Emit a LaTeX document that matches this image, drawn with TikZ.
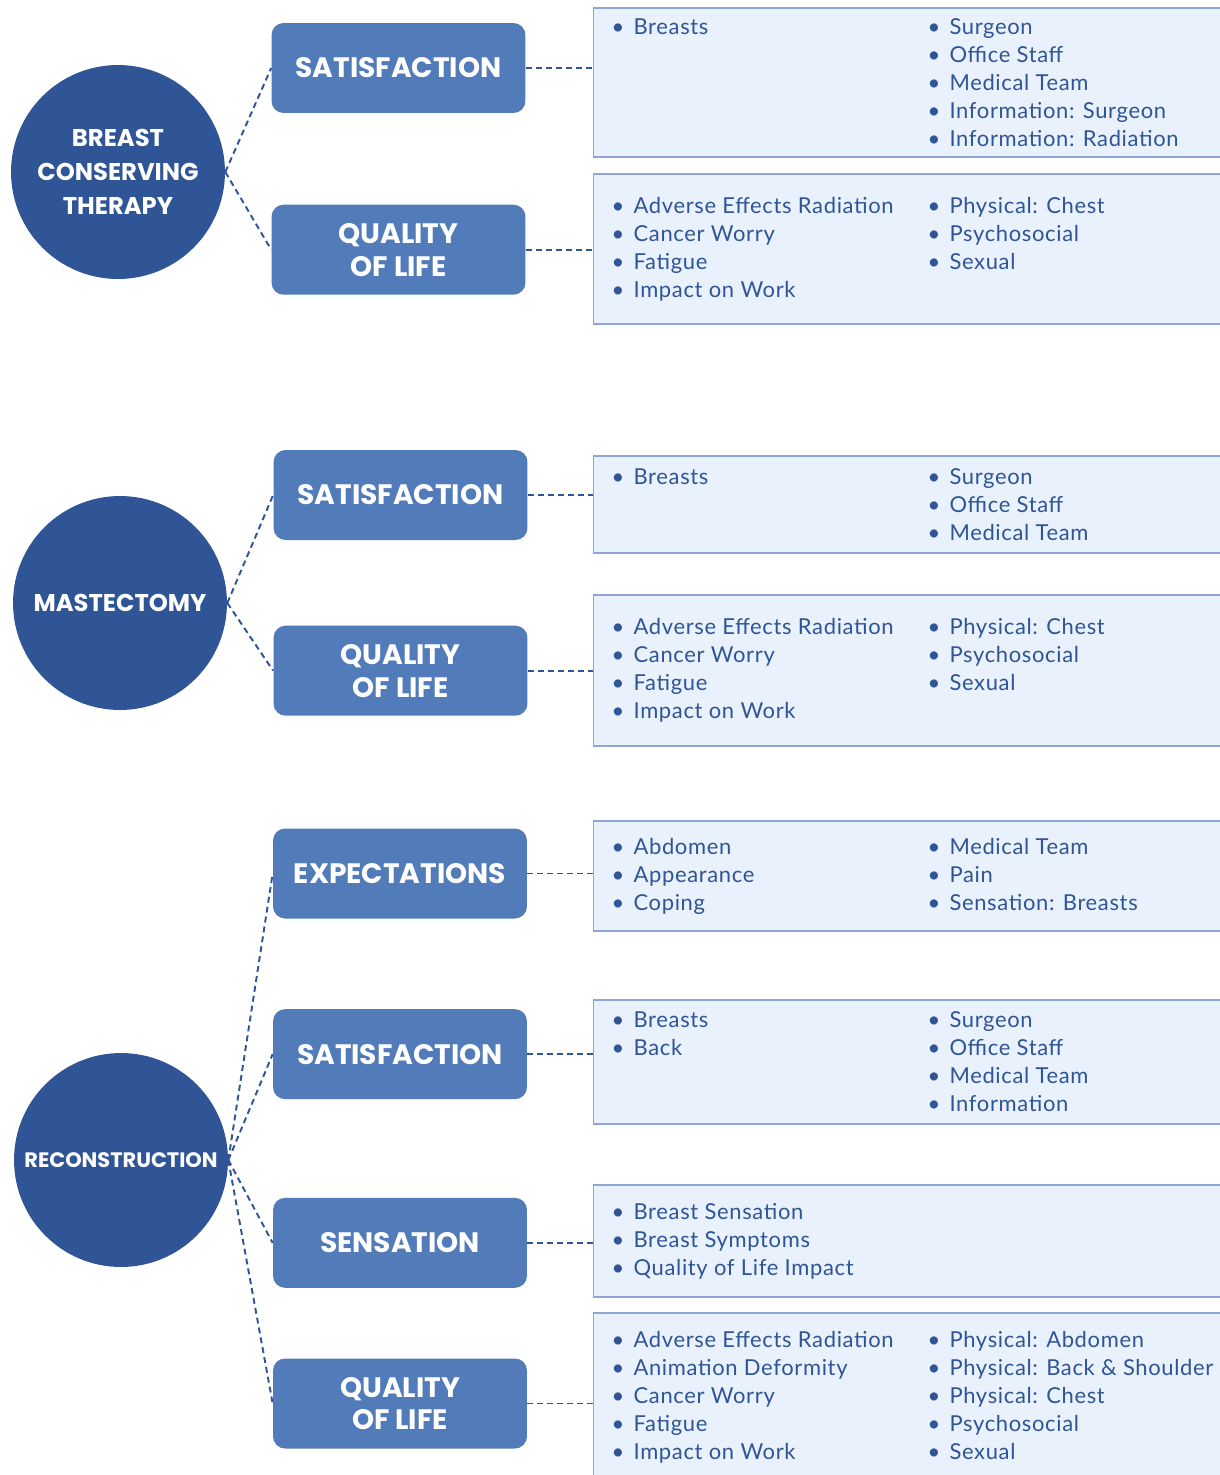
\documentclass[tikz,border=0pt]{standalone}
\usepackage{fontspec}
\setmainfont{Lato}[LetterSpace=3]
\newfontfamily\headfont{Poppins}
\usepackage{xcolor}
\usetikzlibrary{positioning,calc}
\definecolor{hubblue}{RGB}{47,85,151}
\definecolor{headblue}{RGB}{82,123,185}
\definecolor{listfill}{RGB}{233,241,253}
\definecolor{listline}{RGB}{140,166,214}
\definecolor{listtext}{RGB}{47,85,151}
\newcommand{\bul}[1]{\makebox[0.44cm][l]{\textbullet}#1\par}
\newcommand{\itemcol}[2]{\begin{minipage}[t]{#1}#2\end{minipage}}

\begin{document}
\begin{tikzpicture}[
  x=0.02cm, y=-0.02cm,
  node distance=1.8cm,
  hub/.style={circle, fill=hubblue, text=white, minimum size=4.28cm, inner sep=0pt, align=center, font=\headfont\bfseries\fontsize{13.8}{19.3}\selectfont},
  head/.style={rectangle, rounded corners=0.24cm, fill=headblue, text=white, minimum width=5.08cm, minimum height=1.8cm, align=center, font=\headfont\bfseries\fontsize{16}{18.7}\selectfont},
  items/.style={rectangle, draw=listline, fill=listfill, line width=0.7pt, anchor=west, inner xsep=0.36cm, inner ysep=0pt, text=listtext, font=\fontsize{12.5}{15.9}\selectfont},
  link/.style={dash pattern=on 3.4pt off 2.3pt, line width=1.1pt, draw=hubblue}
]
  \clip (0,0) rectangle (1220,1475);

  % Nodes
  \node[hub] (bct) at (118,172) {BREAST\\CONSERVING\\THERAPY};
  \node[head] (sat1) at (398.5,68) {SATISFACTION};
  \node[head, below=1.82cm of sat1] (qol1) {QUALITY\\OF LIFE};

  \node[hub] (mast) at (120,603) {MASTECTOMY};
  \node[head] (sat2) at (400.5,495) {SATISFACTION};
  \node[head, below=1.7cm of sat2] (qol2) {QUALITY\\OF LIFE};

  \node[hub, font=\headfont\bfseries\fontsize{11.9}{14}\selectfont] (recon) at (121,1160) {RECONSTRUCTION};
  \node[head] (exp3) at (400,873.5) {EXPECTATIONS};
  \node[head, below=1.8cm of exp3] (sat3) {SATISFACTION};
  \node[head, below=1.96cm of sat3] (sens3) {SENSATION};
  \node[head, below=1.4cm of sens3] (qol3) {QUALITY\\OF LIFE};

  % Lists
  \node[items, minimum height=2.98cm] (list1) at (593,82.5) {%
    \itemcol{6.32cm}{\bul{Breasts}}%
    \itemcol{5.74cm}{\bul{Surgeon}\bul{Office Staff}\bul{Medical Team}\bul{Information: Surgeon}\bul{Information: Radiation}}};
  \node[items, minimum height=3cm] (list2) at (593,249) {%
    \itemcol{6.32cm}{\bul{Adverse Effects Radiation}\bul{Cancer Worry}\bul{Fatigue}\bul{Impact on Work}}%
    \itemcol{5.74cm}{\bul{Physical: Chest}\bul{Psychosocial}\bul{Sexual}}};
  \node[items, minimum height=1.94cm] (list3) at (593,504.5) {%
    \itemcol{6.32cm}{\bul{Breasts}}%
    \itemcol{5.74cm}{\bul{Surgeon}\bul{Office Staff}\bul{Medical Team}}};
  \node[items, minimum height=3.02cm] (list4) at (593,670.5) {%
    \itemcol{6.32cm}{\bul{Adverse Effects Radiation}\bul{Cancer Worry}\bul{Fatigue}\bul{Impact on Work}}%
    \itemcol{5.74cm}{\bul{Physical: Chest}\bul{Psychosocial}\bul{Sexual}}};
  \node[items, minimum height=2.2cm] (list5) at (593,876) {%
    \itemcol{6.32cm}{\bul{Abdomen}\bul{Appearance}\bul{Coping}}%
    \itemcol{5.74cm}{\bul{Medical Team}\bul{Pain}\bul{Sensation: Breasts}}};
  \node[items, minimum height=2.48cm] (list6) at (593,1062) {%
    \itemcol{6.32cm}{\bul{Breasts}\bul{Back}}%
    \itemcol{5.74cm}{\bul{Surgeon}\bul{Office Staff}\bul{Medical Team}\bul{Information}}};
  \node[items, minimum height=2.24cm] (list7) at (593,1241) {%
    \itemcol{12.06cm}{\bul{Breast Sensation}\bul{Breast Symptoms}\bul{Quality of Life Impact}}};
  \node[items, minimum height=3.36cm] (list8) at (593,1397) {%
    \itemcol{6.32cm}{\bul{Adverse Effects Radiation}\bul{Animation Deformity}\bul{Cancer Worry}\bul{Fatigue}\bul{Impact on Work}}%
    \itemcol{5.74cm}{\bul{Physical: Abdomen}\bul{Physical: Back \& Shoulder}\bul{Physical: Chest}\bul{Psychosocial}\bul{Sexual}}};

  % Links
  \draw[link] (bct.east) -- (sat1.west);
  \draw[link] (bct.east) -- (qol1.west);
  \draw[link] (mast.east) -- (sat2.west);
  \draw[link] (mast.east) -- (qol2.west);
  \draw[link] (recon.east) -- (exp3.west);
  \draw[link] (recon.east) -- (sat3.west);
  \draw[link] (recon.east) -- (sens3.west);
  \draw[link] (recon.east) -- (qol3.west);

  \draw[link] (sat1.east) -- (sat1.east -| list1.west);
  \draw[link] (qol1.east) -- (qol1.east -| list2.west);
  \draw[link] (sat2.east) -- (sat2.east -| list3.west);
  \draw[link] (qol2.east) -- (qol2.east -| list4.west);
  \draw[link] (exp3.east) -- (exp3.east -| list5.west);
  \draw[link] (sat3.east) -- (sat3.east -| list6.west);
  \draw[link] (sens3.east) -- (sens3.east -| list7.west);
  \draw[link] (qol3.east) -- (qol3.east -| list8.west);

\end{tikzpicture}
\end{document}
